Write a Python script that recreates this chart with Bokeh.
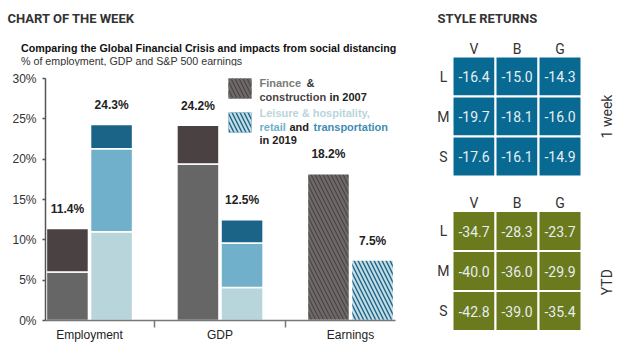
from math import pi
from bokeh.plotting import figure
from bokeh.models import Range1d, FixedTicker, Label, BoxAnnotation
from bokeh.layouts import row, column
from bokeh.embed import file_html
from bokeh.resources import INLINE
from bokeh.core.properties import value

# ---------------- data ----------------
categories = ["Employment", "GDP", "Earnings"]
gfc_finance = [6.0, 19.4]          # lower segment (Employment, GDP) 2007
gfc_construction = [5.4, 4.8]      # upper segment 2007
gfc_total = [11.4, 24.2, 18.2]
covid_leisure = [11.0, 4.1]        # 2019 lower
covid_retail = [10.3, 5.5]         # 2019 middle
covid_transport = [3.0, 2.9]       # 2019 top
covid_total = [24.3, 12.5, 7.5]
y_ticks = [0, 5, 10, 15, 20, 25, 30]

style_cols = ["V", "B", "G"]
style_rows = ["L", "M", "S"]
week_returns = [[-16.4, -15.0, -14.3],
                [-19.7, -18.1, -16.0],
                [-17.6, -16.1, -14.9]]
ytd_returns = [[-34.7, -28.3, -23.7],
               [-40.0, -36.0, -29.9],
               [-42.8, -39.0, -35.4]]

# ---------------- styles ----------------
GRAY_L = "#666666"
DARK = "#4a4242"
BLUE_L = "#b9d5dc"
BLUE_M = "#70b0cb"
BLUE_D = "#1b6488"
HEAT_BLUE = "#086a92"
OLIVE = "#6a7a1d"
TXT = "#222222"
FONT = "Liberation Sans"
HFONT = "Roboto"

H = 353
W1 = 415
W2 = 215
TOPH = 66

# ---------------- title strip ----------------
t = figure(width=W1, height=TOPH, x_range=Range1d(0, W1), y_range=Range1d(TOPH, 0),
           output_backend="svg", toolbar_location=None, tools="",
           min_border=0, x_axis_location=None, y_axis_location=None)
t.outline_line_color = None
t.xgrid.visible = False
t.ygrid.visible = False
t.text(x=[7], y=[18], text=["CHART OF THE WEEK"], text_font=value(HFONT),
       text_font_size="13px", text_font_style="bold", text_color="#333333",
       text_align="left", text_baseline="middle")
t.text(x=[20.5], y=[47.5],
       text=["Comparing the Global Financial Crisis and impacts from social distancing"],
       text_font=value(FONT), text_font_size="10.7px", text_font_style="bold",
       text_color="#111111", text_align="left", text_baseline="middle")
t.text(x=[20.5], y=[60], text=["% of employment, GDP and S&P 500 earnings"],
       text_font=value(FONT), text_font_size="10.7px", text_color="#333333",
       text_align="left", text_baseline="middle")

# ---------------- bar chart ----------------
PX0, PXS = 89.0, 130.5
PY0, PYS = 320.0, 242.0 / 30.0
LEFT, BOTTOM = 45, 33


def X(px):
    return (px - PX0) / PXS


def Y(py):
    return (PY0 - py) / PYS


x_start = X(LEFT)
x_end = X(W1)
p = figure(width=W1, height=H - TOPH, x_range=Range1d(x_start, x_end),
           y_range=Range1d(0, Y(TOPH)), output_backend="svg",
           toolbar_location=None, tools="",
           min_border_left=LEFT, min_border_bottom=BOTTOM,
           min_border_top=0, min_border_right=0)
p.outline_line_color = None
p.xgrid.visible = False
p.ygrid.visible = False

OFF = 0.169
BW = 0.322
idx = list(range(len(gfc_finance)))

# 2007 bars
p.vbar(x=[i - OFF for i in idx], width=BW, bottom=0, top=gfc_finance,
       fill_color=GRAY_L, line_color="white", line_width=1.5)
p.vbar(x=[i - OFF for i in idx], width=BW, bottom=gfc_finance,
       top=[a + b for a, b in zip(gfc_finance, gfc_construction)],
       fill_color=DARK, line_color="white", line_width=1.5)
# 2019 bars
s1 = covid_leisure
s2 = [a + b for a, b in zip(covid_leisure, covid_retail)]
s3 = [a + b for a, b in zip(s2, covid_transport)]
p.vbar(x=[i + OFF for i in idx], width=BW, bottom=0, top=s1,
       fill_color=BLUE_L, line_color="white", line_width=1.5)
p.vbar(x=[i + OFF for i in idx], width=BW, bottom=s1, top=s2,
       fill_color=BLUE_M, line_color="white", line_width=1.5)
p.vbar(x=[i + OFF for i in idx], width=BW, bottom=s2, top=s3,
       fill_color=BLUE_D, line_color="white", line_width=1.5)
# Earnings hatched
p.vbar(x=[2 - OFF], width=BW, bottom=0, top=[gfc_total[2]],
       fill_color=DARK, line_color="white", line_width=1.5,
       hatch_pattern="left_diagonal_line", hatch_color="#6e6868",
       hatch_scale=8, hatch_weight=2.5)
p.vbar(x=[2 + OFF], width=BW, bottom=0, top=[covid_total[2]],
       fill_color=BLUE_D, line_color="white", line_width=1.5,
       hatch_pattern="left_diagonal_line", hatch_color="#c6dee6",
       hatch_scale=8, hatch_weight=2.2)

# value labels
LAB_OFF = 19.5 / PYS
for i in range(3):
    p.add_layout(Label(x=i - OFF, y=gfc_total[i] + LAB_OFF, text=f"{gfc_total[i]:.1f}%",
                       text_font=FONT, text_font_style="bold", text_font_size="12px",
                       text_color=TXT, text_align="center", text_baseline="middle"))
    p.add_layout(Label(x=i + OFF, y=covid_total[i] + LAB_OFF, text=f"{covid_total[i]:.1f}%",
                       text_font=FONT, text_font_style="bold", text_font_size="12px",
                       text_color=TXT, text_align="center", text_baseline="middle"))

# axes
ya = p.yaxis[0]
ya.ticker = FixedTicker(ticks=y_ticks)
ya.bounds = (0, 30)
ya.major_label_overrides = {tk: f"{tk}%" for tk in y_ticks}
ya.major_label_text_font = FONT
ya.major_label_text_font_size = "12px"
ya.major_label_text_color = "#333333"
ya.axis_line_color = "#555555"
ya.axis_line_width = 1.5
ya.major_tick_line_color = "#555555"
ya.major_tick_line_width = 1.5
ya.major_tick_out = 3
ya.major_tick_in = 0
ya.minor_tick_line_color = None
ya.major_label_standoff = 6

xa = p.xaxis[0]
xa.ticker = FixedTicker(ticks=[0, 1, 2], minor_ticks=[0.5, 1.5])
xa.bounds = (x_start, 2.345)
xa.major_label_overrides = {i: c for i, c in enumerate(categories)}
xa.major_label_text_font = FONT
xa.major_label_text_font_size = "12px"
xa.major_label_text_color = "#222222"
xa.axis_line_color = "#777777"
xa.axis_line_width = 1.5
xa.major_tick_line_color = None
xa.major_tick_out = 0
xa.major_tick_in = 0
xa.minor_tick_line_color = "#777777"
xa.minor_tick_line_width = 1.5
xa.minor_tick_out = 7
xa.minor_tick_in = 0
xa.major_label_standoff = 0


def lab(px, py, text, size="11px", color=TXT, bold=True, font=FONT, align="left"):
    p.add_layout(Label(x=X(px), y=Y(py), text=text, text_font=font,
                       text_font_size=size, text_color=color,
                       text_font_style="bold" if bold else "normal",
                       text_align=align, text_baseline="middle"))


# legend swatches
p.add_layout(BoxAnnotation(left=X(228), right=X(251), top=Y(78), bottom=Y(98),
                           fill_color=DARK, fill_alpha=1, line_color=None,
                           hatch_pattern="left_diagonal_line", hatch_color="#6e6868",
                           hatch_scale=8, hatch_weight=2.5))
p.add_layout(BoxAnnotation(left=X(228), right=X(251), top=Y(112), bottom=Y(132),
                           fill_color=BLUE_D, fill_alpha=1, line_color=None,
                           hatch_pattern="left_diagonal_line", hatch_color="#c6dee6",
                           hatch_scale=8, hatch_weight=2.2))
lab(259, 82.5, "Finance", color="#7a7a7a")
lab(306, 82.5, "&", color="#333333")
lab(259, 96, "construction", color="#4a4242")
lab(329, 96, "in 2007", color=TXT)
lab(259, 112.5, "Leisure & hospitality,", color=BLUE_L)
lab(259, 126, "retail", color=BLUE_M)
lab(289, 126, "and", color=TXT)
lab(313, 126, "transportation", color="#3f8db4")
lab(259, 139, "in 2019", color=TXT)

# ---------------- heatmaps ----------------
CW, RH = 43.0, 40.0
HX0 = 452 - W1
hx_start = -HX0 / CW
T1, T2 = 56.0, 210.5
h = figure(width=W2, height=H, x_range=Range1d(hx_start, hx_start + W2 / CW),
           y_range=Range1d(-T1 / RH + H / RH, -T1 / RH),
           output_backend="svg", toolbar_location=None, tools="",
           min_border=0, x_axis_location=None, y_axis_location=None)
h.extra_y_ranges = {"ytd": Range1d(-T2 / RH + H / RH, -T2 / RH)}
h.outline_line_color = None
h.xgrid.visible = False
h.ygrid.visible = False


def heat(data, color, rname, side_label, side_y):
    xs, ys, txt = [], [], []
    for i, r in enumerate(style_rows):
        for j, c in enumerate(style_cols):
            xs.append(j + 0.5)
            ys.append(i + 0.5)
            txt.append(f"{data[i][j]:.1f}")
    kw = {} if rname is None else {"y_range_name": rname}
    h.rect(x=xs, y=ys, width=1, height=1, fill_color=color,
           line_color="white", line_width=2, **kw)
    h.text(x=xs, y=ys, text=txt, text_font=value(HFONT), text_font_size="14px",
           text_color="#e6eef2", text_align="center", text_baseline="middle", **kw)
    h.text(x=[j + 0.5 for j in range(3)], y=[-0.2] * 3, text=style_cols,
           text_font=value(HFONT), text_font_size="14px", text_color="#333333",
           text_align="center", text_baseline="middle", **kw)
    h.text(x=[-0.21] * 3, y=[i + 0.5 for i in range(3)], text=style_rows,
           text_font=value(HFONT), text_font_size="14px", text_color="#333333",
           text_align="center", text_baseline="middle", **kw)
    h.text(x=[3.6], y=[side_y], text=[side_label], angle=pi / 2,
           text_font=value(HFONT), text_font_size="14px", text_color="#333333",
           text_align="center", text_baseline="middle", **kw)


heat(week_returns, HEAT_BLUE, None, "1 week", 1.5)
heat(ytd_returns, OLIVE, "ytd", "YTD", 1.78)
h.text(x=[(437 - 452) / CW], y=[(18 - T1) / RH], text=["STYLE RETURNS"],
       text_font=value(HFONT), text_font_size="13px", text_font_style="bold",
       text_color="#333333", text_align="left", text_baseline="middle")

layout = row(column(row(t, spacing=0), p, spacing=0), h, spacing=0)
open("out.html", "w").write(file_html(layout, INLINE))
